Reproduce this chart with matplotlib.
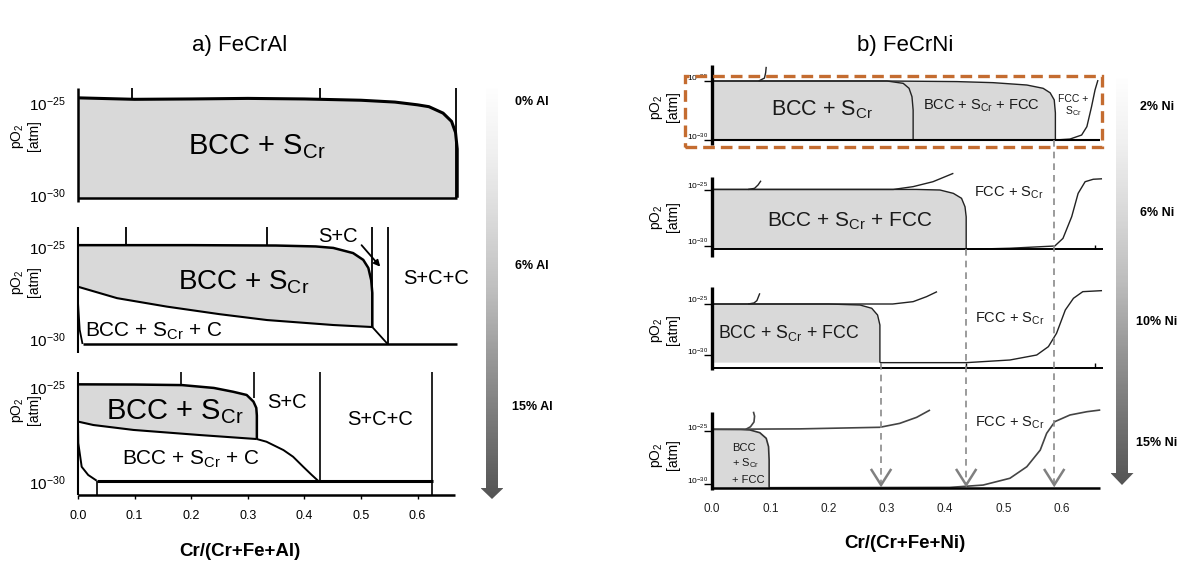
import numpy as np
import matplotlib.pyplot as plt
from matplotlib.patches import Polygon, Rectangle
from matplotlib.transforms import blended_transform_factory

plt.rcParams['font.family'] = ['Liberation Sans', 'DejaVu Sans']
plt.rcParams['mathtext.fontset'] = 'custom'
plt.rcParams['mathtext.rm'] = 'Liberation Sans'
plt.rcParams['mathtext.it'] = 'Liberation Sans:italic'
plt.rcParams['mathtext.bf'] = 'Liberation Sans:bold'

# ---------------- datos (x = Cr fraction, y = log10 pO2) ----------------
ticks_x = [0.0, 0.1, 0.2, 0.3, 0.4, 0.5, 0.6]
ticks_x_labels = ['0.0', '0.1', '0.2', '0.3', '0.4', '0.5', '0.6']
ticks_y = [-30, -25]
ticks_y_labels = [r'$\mathregular{10^{-30}}$', r'$\mathregular{10^{-25}}$']

al_levels = ['0% Al', '6% Al', '15% Al']
ni_levels = ['2% Ni', '6% Ni', '10% Ni', '15% Ni']

# a) FeCrAl, 0 % Al
al0_top_x = [0.0, 0.1, 0.2, 0.3, 0.4, 0.5, 0.56, 0.6, 0.62, 0.645, 0.66, 0.667, 0.67, 0.67]
al0_top_y = [-24.72, -24.8, -24.78, -24.75, -24.78, -24.85, -24.95, -25.1, -25.2, -25.55, -26.0, -26.6, -27.5, -30.15]
al0_floor = -30.15
al0_marks = [0.096, 0.428]
al0_edge = 0.668

# a) FeCrAl, 6 % Al
al6_top_x = [0.0, 0.2, 0.35, 0.42, 0.451, 0.486, 0.504, 0.513, 0.518, 0.52, 0.52]
al6_top_y = [-24.9, -24.9, -24.92, -24.97, -25.05, -25.33, -25.7, -26.14, -26.8, -27.5, -29.35]
al6_low_x = [0.52, 0.451, 0.334, 0.25, 0.157, 0.069, 0.0]
al6_low_y = [-29.35, -29.24, -28.97, -28.65, -28.24, -27.78, -27.16]
al6_diag_x = [0.52, 0.547]
al6_diag_y = [-29.35, -30.27]
al6_left_x = [0.0, 0.003, 0.008]
al6_left_y = [-28.0, -29.5, -30.27]
al6_floor = -30.27
al6_marks = [0.0855, 0.334]
al6_walls = [0.52, 0.547]

# a) FeCrAl, 15 % Al
al15_top_x = [0.0, 0.1, 0.184, 0.24, 0.274, 0.298, 0.31, 0.315, 0.316, 0.316]
al15_top_y = [-24.86, -24.87, -24.9, -25.05, -25.25, -25.42, -25.77, -26.1, -26.5, -27.74]
al15_low_x = [0.316, 0.216, 0.098, 0.027, 0.0]
al15_low_y = [-27.74, -27.53, -27.26, -27.0, -26.82]
al15_c_x = [0.316, 0.333, 0.363, 0.38, 0.398, 0.413, 0.424]
al15_c_y = [-27.74, -27.88, -28.32, -28.67, -29.2, -29.63, -29.93]
al15_l_x = [0.0, 0.0005, 0.0065, 0.018, 0.033]
al15_l_y = [-26.82, -27.95, -29.2, -29.63, -29.93]
al15_floor = -29.93
al15_floor_x = [0.033, 0.627]
al15_marks = [0.182]
al15_mark2 = (0.311, -25.6)
al15_walls = [0.428, 0.625]
al_axis = -30.68

# b) FeCrNi, 2 % Ni
ni2_out_x = [0.0, 0.3, 0.42, 0.482, 0.54, 0.568, 0.58, 0.587, 0.589, 0.589]
ni2_out_y = [-25.0, -25.0, -25.05, -25.14, -25.34, -25.62, -26.0, -26.6, -27.7, -30.0]
ni2_in_x = [0.0, 0.3, 0.328, 0.338, 0.343, 0.345, 0.345]
ni2_in_y = [-25.0, -25.0, -25.2, -25.62, -26.33, -27.46, -30.0]
ni2_r_x = [0.589, 0.614, 0.634, 0.643, 0.651, 0.657, 0.662]
ni2_r_y = [-30.0, -29.92, -29.58, -28.87, -27.18, -25.76, -24.92]
ni2_hook_x = [0.08, 0.09, 0.092, 0.093]
ni2_hook_y = [-25.0, -24.75, -24.3, -23.8]
ni2_floor = -30.0

# b) FeCrNi, 6 % Ni
ni6_gray_x = [0.0, 0.35, 0.391, 0.414, 0.428, 0.434, 0.436, 0.436]
ni6_gray_y = [-24.95, -24.95, -25.0, -25.3, -25.74, -26.5, -27.4, -30.3]
ni6_up_x = [0.0, 0.311, 0.345, 0.379, 0.414]
ni6_up_y = [-24.95, -24.95, -24.7, -24.26, -23.51]
ni6_hook_x = [0.062, 0.073, 0.079, 0.084]
ni6_hook_y = [-24.95, -24.85, -24.55, -24.17]
ni6_r_x = [0.436, 0.511, 0.588, 0.602, 0.617, 0.628, 0.64, 0.654, 0.669]
ni6_r_y = [-30.3, -30.2, -30.0, -29.32, -27.38, -25.3, -24.26, -24.04, -24.0]
ni6_floor = -30.3

# b) FeCrNi, 10 % Ni
ni10_gray_x = [0.0, 0.2, 0.254, 0.274, 0.284, 0.288, 0.288]
ni10_gray_y = [-25.0, -25.0, -25.1, -25.42, -26.08, -27.06, -30.75]
ni10_up_x = [0.0, 0.31, 0.345, 0.368, 0.386]
ni10_up_y = [-25.0, -25.0, -24.77, -24.28, -23.79]
ni10_hook_x = [0.062, 0.072, 0.077, 0.082]
ni10_hook_y = [-25.0, -24.9, -24.67, -23.95]
ni10_r_x = [0.288, 0.436, 0.511, 0.557, 0.577, 0.591, 0.606, 0.62, 0.636, 0.669]
ni10_r_y = [-30.75, -30.75, -30.49, -30.0, -29.18, -27.87, -25.59, -24.44, -23.79, -23.69]
ni10_floor = -30.75
ni10_axis = -31.27

# b) FeCrNi, 15 % Ni
ni15_gray_x = [0.0, 0.05, 0.065, 0.082, 0.093, 0.097, 0.098, 0.098]
ni15_gray_y = [-24.84, -24.86, -24.9, -25.16, -25.69, -26.48, -27.74, -30.35]
ni15_up_x = [0.0, 0.15, 0.288, 0.322, 0.351, 0.374]
ni15_up_y = [-24.84, -24.8, -24.65, -24.28, -23.71, -23.02]
ni15_hook_x = [0.058, 0.066, 0.072, 0.073, 0.071]
ni15_hook_y = [-24.84, -24.6, -24.15, -23.6, -23.18]
ni15_r_x = [0.098, 0.408, 0.465, 0.511, 0.54, 0.563, 0.574, 0.588, 0.614, 0.643, 0.666]
ni15_r_y = [-30.35, -30.32, -30.1, -29.46, -28.37, -26.8, -25.22, -24.12, -23.49, -23.18, -23.02]
ni15_floor = -30.38

# limites de fase trasladados hacia abajo (flechas discontinuas)
shift_x = [0.29, 0.436, 0.587]

# ---------------- figura ----------------
W, H = 1196, 563
fig = plt.figure(figsize=(W / 100, H / 100), dpi=100)

GREY = '#d9d9d9'
SCR = r'S$_{\mathregular{Cr}}$'
PO2 = 'pO$_{\\mathregular{2}}$\n[atm]'


def panel(x0, ppu, xmax, top, bottom, cal):
    # ejes colocados en pixeles; cal = pixel y de 1e-25 y 1e-30
    ppd = (cal[1] - cal[0]) / 5
    ax = fig.add_axes([x0 / W, 1 - bottom / H, xmax * ppu / W, (bottom - top) / H])
    ax.set_xlim(0, xmax)
    ax.set_ylim(-25 - (bottom - cal[0]) / ppd, -25 - (top - cal[0]) / ppd)
    ax.patch.set_visible(False)
    for s in ax.spines.values():
        s.set_visible(False)
    ax.set_xticks([])
    ax.set_yticks(ticks_y, ticks_y_labels)
    return ax


def ln(ax, x, y, lw=1.5, c='k'):
    ax.plot(x, y, color=c, lw=lw, clip_on=False, solid_capstyle='butt', solid_joinstyle='round')


def txt(ax, x, y, s, size, ha='center', c='k'):
    ax.text(x, y, s, ha=ha, va='center', fontsize=size, color=c)


def grad_arrow(xc, top, neck, tip, sw=12, hw=23):
    ax = fig.add_axes([(xc - hw / 2) / W, 1 - tip / H, hw / W, (tip - top) / H])
    ax.set_xlim(xc - hw / 2, xc + hw / 2)
    ax.set_ylim(tip, top)
    ax.axis('off')
    grad = np.linspace(0.74, 0.01, 256)[:, None]
    im = ax.imshow(grad, cmap='Greys', vmin=0, vmax=1, origin='lower', aspect='auto',
                   extent=(xc - hw / 2, xc + hw / 2, tip, top), interpolation='bilinear')
    pts = [(xc - sw / 2, top), (xc + sw / 2, top), (xc + sw / 2, neck), (xc + hw / 2, neck),
           (xc, tip), (xc - hw / 2, neck), (xc - sw / 2, neck)]
    poly = Polygon(pts, closed=True, facecolor='none', edgecolor='none', transform=ax.transData)
    ax.add_patch(poly)
    im.set_clip_path(poly)


# ---------------- a) FeCrAl ----------------
AL_X0, AL_PPU, AL_XMAX = 78, 566, 0.68

a0 = panel(AL_X0, AL_PPU, AL_XMAX, 85, 202, (103, 195))
a0.fill(al0_top_x + [0.0], al0_top_y + [al0_floor], color=GREY, lw=0, clip_on=False)
ln(a0, al0_top_x, al0_top_y, 2.2)
ln(a0, [0, 0.67], [al0_floor, al0_floor], 1.8)
ln(a0, [0, 0], [-24.18, -30.4], 1.8)
for m in al0_marks:
    ln(a0, [m, m], [-24.18, -24.8], 1.3)
ln(a0, [al0_edge, al0_edge], [-24.18, al0_floor], 1.3)
txt(a0, 0.316, -27.39, 'BCC + ' + SCR, 21)

a6 = panel(AL_X0, AL_PPU, AL_XMAX, 225, 353, (247, 339))
a6.fill(al6_top_x + al6_low_x, al6_top_y + al6_low_y, color=GREY, lw=0, clip_on=False)
ln(a6, al6_top_x, al6_top_y, 1.8)
ln(a6, al6_low_x, al6_low_y, 1.5)
ln(a6, al6_diag_x, al6_diag_y, 1.3)
ln(a6, al6_left_x, al6_left_y, 1.3)
ln(a6, [0.008, 0.67], [al6_floor, al6_floor], 1.8)
ln(a6, [0, 0], [-23.9, -30.76], 1.5)
for m in al6_marks:
    ln(a6, [m, m], [-23.9, -24.9], 1.3)
ln(a6, [al6_walls[0]] * 2, [-23.9, -29.35], 1.3)
ln(a6, [al6_walls[1]] * 2, [-23.9, al6_floor], 1.3)
txt(a6, 0.292, -26.9, 'BCC + ' + SCR, 20)
txt(a6, 0.134, -29.6, 'BCC + ' + SCR + ' + C', 15)
txt(a6, 0.46, -24.43, 'S+C', 14.5)
txt(a6, 0.632, -26.7, 'S+C+C', 14.5)
a6.annotate('', xy=(0.534, -26.07), xytext=(0.501, -24.9),
            arrowprops=dict(arrowstyle='-|>', color='k', lw=1.3, mutation_scale=9,
                            shrinkA=0, shrinkB=0), annotation_clip=False)

a15 = panel(AL_X0, AL_PPU, AL_XMAX, 370, 495, (387, 482))
a15.fill(al15_top_x + al15_low_x, al15_top_y + al15_low_y, color=GREY, lw=0, clip_on=False)
ln(a15, al15_top_x, al15_top_y, 1.8)
ln(a15, al15_low_x, al15_low_y, 1.5)
ln(a15, al15_c_x, al15_c_y, 1.4)
ln(a15, al15_l_x, al15_l_y, 1.4)
ln(a15, al15_floor_x, [al15_floor, al15_floor], 2.2)
ln(a15, [al15_floor_x[0]] * 2, [al15_floor, al_axis], 1.2)
ln(a15, [0, 0], [-24.2, al_axis], 1.5)
ln(a15, [0, 0.666], [al_axis, al_axis], 1.8)
for m in al15_marks:
    ln(a15, [m, m], [-24.2, -24.9], 1.2)
ln(a15, [al15_mark2[0]] * 2, [-24.2, al15_mark2[1]], 1.2)
ln(a15, [al15_walls[0]] * 2, [-24.2, al15_floor], 1.2)
ln(a15, [al15_walls[1]] * 2, [-24.2, al_axis], 1.2)
txt(a15, 0.171, -26.3, 'BCC + ' + SCR, 21)
txt(a15, 0.2, -28.79, 'BCC + ' + SCR + ' + C', 15)
txt(a15, 0.369, -25.8, 'S+C', 14.5)
txt(a15, 0.534, -26.7, 'S+C+C', 14.5)
a15.set_xticks(ticks_x, ticks_x_labels)
a15.tick_params(axis='x', direction='out', length=3, width=1, pad=8, labelsize=9)

for ax in (a0, a6, a15):
    ax.tick_params(axis='y', length=0, pad=9, labelsize=11)

for yc in (136, 282, 410):
    fig.text(25 / W, 1 - yc / H, PO2, rotation=90, ha='center', va='center', fontsize=10,
             linespacing=1.15)

fig.text(240 / W, 1 - 45 / H, 'a) FeCrAl', ha='center', va='center', fontsize=16)
fig.text(240 / W, 1 - 552 / H, 'Cr/(Cr+Fe+Al)', ha='center', va='center', fontsize=13.5,
         fontweight='bold')

grad_arrow(492, 88, 488, 499)
for lab, yc in zip(al_levels, (102, 266, 407)):
    fig.text(532 / W, 1 - yc / H, lab, ha='center', va='center', fontsize=9, fontweight='bold')

# ---------------- b) FeCrNi ----------------
NI_X0, NI_PPU, NI_XMAX = 712, 583, 0.67
TXT = '#1a1a1a'
CUR = '#222222'

b2 = panel(NI_X0, NI_PPU, NI_XMAX, 65, 145, (81, 140))
b2.fill(ni2_out_x + [0.0], ni2_out_y + [ni2_floor], color=GREY, lw=0, clip_on=False)
ln(b2, ni2_out_x, ni2_out_y, 1.0, CUR)
ln(b2, ni2_in_x, ni2_in_y, 1.0, CUR)
ln(b2, ni2_r_x, ni2_r_y, 1.0, CUR)
ln(b2, ni2_hook_x, ni2_hook_y, 1.0, CUR)
ln(b2, [0, 0.665], [ni2_floor, ni2_floor], 1.5)
ln(b2, [0, 0], [-23.64, -30.42], 2.4)
txt(b2, 0.189, -27.46, 'BCC + ' + SCR, 15.5, c=TXT)
txt(b2, 0.462, -27.1, 'BCC + ' + SCR + ' + FCC', 10.5, c=TXT)
b2.text(0.619, -27.1, 'FCC +\n' + SCR, ha='center', va='center', fontsize=7.5, color=TXT,
        linespacing=1.0)

b6 = panel(NI_X0, NI_PPU, NI_XMAX, 175, 257, (190, 246))
b6.fill(ni6_gray_x + [0.0], ni6_gray_y + [ni6_floor], color=GREY, lw=0, clip_on=False)
ln(b6, ni6_gray_x, ni6_gray_y, 1.0, CUR)
ln(b6, ni6_up_x, ni6_up_y, 1.0, CUR)
ln(b6, ni6_hook_x, ni6_hook_y, 1.0, CUR)
ln(b6, ni6_r_x, ni6_r_y, 1.0, CUR)
ln(b6, [0, 0.67], [ni6_floor, ni6_floor], 1.4)
ln(b6, [0.657, 0.657], [ni6_floor, -29.9], 1.0)
ln(b6, [0, 0], [-23.84, -30.98], 2.4)
txt(b6, 0.236, -27.81, 'BCC + ' + SCR + ' + FCC', 15, c=TXT)
txt(b6, 0.509, -25.22, 'FCC + ' + SCR, 10.5, c=TXT)

b10 = panel(NI_X0, NI_PPU, NI_XMAX, 285, 370, (304, 355))
b10.fill(ni10_gray_x + [0.0], ni10_gray_y + [ni10_floor], color=GREY, lw=0, clip_on=False)
ln(b10, ni10_gray_x, ni10_gray_y, 1.0, CUR)
ln(b10, ni10_up_x, ni10_up_y, 1.0, CUR)
ln(b10, ni10_hook_x, ni10_hook_y, 1.0, CUR)
ln(b10, ni10_r_x, ni10_r_y, 1.0, CUR)
ln(b10, [0, 0.67], [ni10_axis, ni10_axis], 1.4)
for m in (0.436, 0.657):
    ln(b10, [m, m], [ni10_axis, -30.8], 1.0)
ln(b10, [0, 0], [-23.33, -31.47], 2.4)
txt(b10, 0.131, -27.89, 'BCC + ' + SCR + ' + FCC', 12.8, c=TXT)
txt(b10, 0.511, -26.47, 'FCC + ' + SCR, 10.5, c=TXT)

b15 = panel(NI_X0, NI_PPU, NI_XMAX, 410, 488, (431, 484))
b15.fill(ni15_gray_x + [0.0], ni15_gray_y + [ni15_floor], color=GREY, lw=0, clip_on=False)
ln(b15, ni15_gray_x, ni15_gray_y, 1.2, '#333333')
ln(b15, ni15_up_x, ni15_up_y, 1.2, '#444444')
ln(b15, ni15_hook_x, ni15_hook_y, 1.2, '#444444')
ln(b15, ni15_r_x, ni15_r_y, 1.2, '#444444')
ln(b15, [0, 0.665], [ni15_floor, ni15_floor], 1.8)
ln(b15, [0, 0], [-23.2, -30.57], 2.4)
b15.text(0.034, -26.65, 'BCC', ha='left', va='center', fontsize=8, color=TXT)
b15.text(0.034, -28.07, '+ ' + SCR, ha='left', va='center', fontsize=8, color=TXT)
b15.text(0.034, -29.62, '+ FCC', ha='left', va='center', fontsize=8, color=TXT)
txt(b15, 0.511, -24.25, 'FCC + ' + SCR, 10.5, c=TXT)
b15.set_xticks(ticks_x, ticks_x_labels)
b15.tick_params(axis='x', length=0, pad=11, labelsize=8.5, labelcolor='#222222')

for ax in (b2, b6, b10, b15):
    ax.tick_params(axis='y', length=6, width=1.0, pad=-3, labelsize=6)
    for lab in ax.get_yticklabels():
        lab.set_va('baseline')

# limites trasladados: lineas discontinuas con punta abierta
tr = blended_transform_factory(b15.transData, fig.transFigure)
for xv, y0 in zip(shift_x, (363, 249, 140)):
    b15.plot([xv, xv], [1 - y0 / H, 1 - 484 / H], transform=tr, color='#8a8a8a', lw=1.2,
             ls=(0, (4, 3)), clip_on=False)
    dx = 9.5 / NI_PPU
    b15.plot([xv - dx, xv, xv + dx], [1 - 470 / H, 1 - 485 / H, 1 - 470 / H], transform=tr,
             color='#808080', lw=1.8, clip_on=False, solid_joinstyle='miter')

fig.add_artist(Rectangle((685 / W, 1 - 147 / H), (1102 - 685) / W, (147 - 76) / H,
                         transform=fig.transFigure, fill=False, ec='#c46c30', lw=2.4,
                         ls=(0, (3.5, 1.8))))

for yc in (107, 217, 330, 455):
    fig.text(664 / W, 1 - yc / H, PO2, rotation=90, ha='center', va='center', fontsize=10,
             linespacing=1.15)

fig.text(905 / W, 1 - 45 / H, 'b) FeCrNi', ha='center', va='center', fontsize=16)
fig.text(905 / W, 1 - 543 / H, 'Cr/(Cr+Fe+Ni)', ha='center', va='center', fontsize=13.5,
         fontweight='bold')

grad_arrow(1122, 78, 473, 485)
for lab, yc in zip(ni_levels, (107, 213, 322, 443)):
    fig.text(1157 / W, 1 - yc / H, lab, ha='center', va='center', fontsize=9, fontweight='bold')

fig.savefig('out.png', dpi=100)
